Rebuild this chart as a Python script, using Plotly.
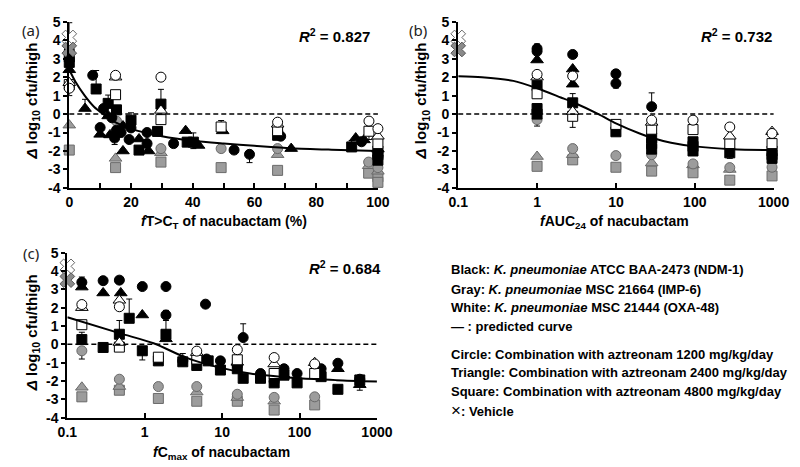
import plotly.graph_objects as go

# ---------------- data: panel (a)  fT>CT (%) ----------------
a_black_circle = [(0, 3.45), (7.6, 2.1), (11.1, 0.3), (13.8, -0.2), (10, -0.73), (15.3, -0.87), (16.8, -1.0),
                  (14.7, -1.3), (20, -0.75), (19.4, -1.38), (25.2, -1.0), (25.2, -1.6), (33.8, -1.6),
                  (53.4, -1.95), (58.4, -2.18), (68.5, -1.2), (94.7, -1.5), (100, -2.3)]
a_black_triangle = [(0, 2.4), (5.1, 0.3), (12.6, -0.1), (10, -1.1), (13.2, -1.13), (17.4, -0.65), (17.4, -2.0),
                    (22.6, -1.35), (25.7, -2.0), (37.7, -0.9), (41.9, -1.7), (49.7, -0.91), (71.9, -1.87),
                    (92.8, -1.3), (95.5, -1.4), (100, -1.9)]
a_black_square = [(0, 3.1), (0, 2.8), (8.7, 1.36), (12.6, 0.58), (15.3, 0.23), (20, -0.33), (22.6, -1.95),
                  (28.6, -0.94), (29.7, 0.54), (38.2, -1.52), (40.2, -1.52), (67.5, -1.15), (91.5, -1.78),
                  (100, -2.0), (100, -2.2), (100, -2.5)]
a_gray_circle = [(15.3, -0.38), (29.7, -1.87), (49.2, -1.87), (67.5, -1.87), (97, -2.6), (100, -2.9)]
a_gray_triangle = [(0, -0.6), (15, -2.4), (29.7, -2.1), (67.5, -2.2), (97, -2.8), (100, -3.1)]
a_gray_square = [(0, -1.95), (15, -2.9), (29.7, -2.6), (49.2, -2.9), (67.5, -3.05), (97, -3.2), (100, -3.4),
                 (100, -3.7)]
a_white_circle = [(0, 1.4), (15, 2.1), (29.7, 2.0), (67.5, -0.44), (97.1, -0.38), (100, -0.79)]
a_white_triangle = [(0, 1.7), (15, 2.0), (29.7, 0.2), (67.5, -0.55), (100, -1.2)]
a_white_square = [(0, 1.6), (15, 1.05), (29.7, -0.3), (49.2, -0.7), (67.5, -0.9), (97.1, -0.93), (100, -1.6)]
a_vehicle_white = [(0, 4.15)]
a_vehicle_gray = [(0, 3.5)]
# (x, y, plus, minus)
a_err = [(0, 4.15, 0.8, 0), (8.7, 1.36, 1.0, 0), (5.1, 0.3, 0.5, 0), (12.6, 0.58, 0.45, 0), (20, -0.33, 0.4, 0),
         (10, -0.73, 0, 0.35), (14.7, -1.3, 0, 0.35), (29.7, 0.54, 0.8, 0), (40.2, -1.52, 0.5, 0.35),
         (49.2, -0.7, 0.35, 0), (58.4, -2.18, 0, 0.45), (91.5, -1.78, 0.35, 0), (94.7, -1.5, 0.25, 0),
         (97.1, -0.93, 0, 0.45), (0, 1.4, 0, 0.4)]
a_curve_x = [0, 2, 5, 8, 11, 15, 20, 30, 40, 50, 60, 72, 85, 100]
a_curve_y = [2.4, 1.75, 1.0, 0.4, 0.0, -0.45, -0.8, -1.2, -1.45, -1.6, -1.72, -1.85, -1.93, -2.0]

# ---------------- data: panel (b)  fAUC24 ----------------
b_black_circle = [(1, 3.55), (1, 3.4), (2.83, 3.23), (10, 2.18), (10, 1.66), (28.4, 0.4)]
b_black_triangle = [(1, 2.93), (2.83, 2.44), (2.83, 1.62)]
b_black_square = [(1, 1.54), (1, 0.3), (1, 0.0), (2.83, 0.61), (10, -0.96), (28.4, -1.3), (28.4, -1.6),
                  (28.4, -1.9), (95, -1.5), (95, -1.75), (95, -2.0), (278, -2.1), (955, -2.0), (955, -2.2),
                  (955, -2.4)]
b_gray_circle = [(1, -0.3), (2.83, -1.87), (10, -2.25), (28.4, -2.2), (95, -2.7), (278, -2.9), (955, -2.88)]
b_gray_triangle = [(1, -2.3), (2.83, -2.2), (28.4, -2.65), (95, -2.75), (278, -3.0)]
b_gray_square = [(1, -2.83), (2.83, -2.48), (10, -2.88), (28.4, -3.09), (95, -3.18), (278, -3.58), (955, -3.35)]
b_white_circle = [(1, 2.15), (2.83, 2.06), (28.4, -0.33), (95, -0.33), (278, -0.7), (955, -1.05)]
b_white_triangle = [(1, 2.0), (2.83, 0.14), (28.4, -0.45), (278, -1.2), (955, -0.95)]
b_white_square = [(1, 1.1), (2.83, -0.12), (10, -0.56), (28.4, -0.82), (95, -0.84), (278, -1.6), (955, -1.6)]
b_vehicle_white = [(0.1, 4.15)]
b_vehicle_gray = [(0.1, 3.5)]
b_err = [(1, 3.55, 0.25, 0), (1, -0.3, 0, 0.35), (2.83, -0.12, 0, 0.6), (2.83, 0.61, 0.5, 0),
         (10, 1.66, 0, 0.25), (28.4, 0.4, 0.75, 0), (278, -2.1, 0, 0.3)]
b_curve_x = [0.1, 0.2, 0.5, 1, 2, 3, 6, 10, 20, 28.4, 50, 100, 300, 1000]
b_curve_y = [2.05, 2.0, 1.8, 1.4, 0.9, 0.6, 0.0, -0.5, -1.05, -1.28, -1.55, -1.75, -1.9, -1.95]

# ---------------- data: panel (c)  fCmax ----------------
c_black_circle = [(0.154, 3.38), (0.29, 3.47), (0.47, 3.5), (0.93, 3.15), (1.88, 3.15), (1.88, 1.6), (6.1, 2.19),
                  (3.1, -0.9), (6.3, -0.8), (9.5, -0.9), (15.7, -1.16), (18.7, 0.37), (31.3, -1.59), (47, -2.02),
                  (63, -1.33), (93, -1.59), (190, -1.33), (313, -1.03), (600, -1.9)]
c_black_triangle = [(0.154, 3.12), (0.29, 2.8), (0.49, 2.8), (0.93, 1.6), (1.88, 0.3), (15.7, -0.98), (63, -1.68),
                    (313, -1.33), (600, -2.2)]
c_black_square = [(0.154, 0.26), (0.29, -0.17), (0.47, 0.55), (0.63, 1.42), (0.93, -0.35), (1.88, 0.55),
                  (1.5, -0.9), (3.1, -0.95), (4.7, -1.15), (6.6, -0.9), (9.5, -1.4), (15.7, -1.33),
                  (18.7, -1.85), (31.3, -1.85), (47, -2.1), (63, -1.68), (93, -2.1), (190, -1.76), (313, -2.45),
                  (600, -1.94)]
c_gray_circle = [(0.154, -0.35), (0.47, -1.9), (1.5, -2.3), (4.7, -2.3), (15.7, -2.72), (47, -2.89), (157, -2.86)]
c_gray_triangle = [(0.154, -2.34), (0.47, -2.3), (4.7, -2.6), (15.7, -2.9), (47, -3.1)]
c_gray_square = [(0.154, -2.86), (0.47, -2.5), (1.5, -2.95), (4.7, -3.1), (15.7, -3.1), (47, -3.58), (157, -3.3)]
c_white_circle = [(0.154, 2.17), (0.47, 2.05), (4.7, -0.37), (15.7, -0.29), (47, -0.72), (157, -1.07)]
c_white_triangle = [(0.154, 2.0), (0.47, 2.4), (0.47, 0.1), (4.7, -0.45), (47, -1.07), (157, -1.0)]
c_white_square = [(0.154, 1.07), (0.47, -0.15), (1.5, -0.7), (4.7, -0.8), (15.7, -0.84), (47, -1.59), (157, -1.59)]
c_vehicle_white = [(0.1, 4.25)]
c_vehicle_gray = [(0.1, 3.5)]
c_err = [(0.154, 3.12, 0.55, 0), (0.154, 0.26, 0.4, 0), (0.154, -0.35, 0, 0.45), (0.47, 0.55, 0.75, 0),
         (0.63, 1.42, 1.05, 0), (0.93, -0.35, 0, 0.5), (1.88, 0.55, 0.75, 0), (1.88, 1.6, 0.25, 0),
         (3.1, -0.9, 0.4, 0), (18.7, 0.37, 0.75, 0), (600, -2.2, 0, 0.3)]
c_curve_x = [0.1, 0.47, 1.3, 3.4, 8.8, 23, 100, 300, 1000]
c_curve_y = [1.48, 0.61, 0.06, -0.72, -1.24, -1.59, -1.85, -1.95, -2.02]

Y_TICKS = [-4, -3, -2, -1, 0, 1, 2, 3, 4, 5]
Y_TICK_TEXT = ["-4", "-3", "-2", "-1", "0", "1", "2", "3", "4", "5"]
A_TICKS = [0, 20, 40, 60, 80, 100]
LOG_TICKS = [0.1, 1, 10, 100, 1000]
LOG_TICK_TEXT = ["0.1", "1", "10", "100", "1000"]

R2 = ["0.827", "0.732", "0.684"]
LEGEND_LINES = [
    "Black: <i>K. pneumoniae</i> ATCC BAA-2473 (NDM-1)",
    "Gray: <i>K. pneumoniae</i> MSC 21664 (IMP-6)",
    "White: <i>K. pneumoniae</i> MSC 21444 (OXA-48)",
    "— : predicted curve",
    "Circle: Combination with aztreonam 1200 mg/kg/day",
    "Triangle: Combination with aztreonam 2400 mg/kg/day",
    "Square: Combination with aztreonam 4800 mg/kg/day",
    "<span style='font-weight:normal;font-size:17px'>×</span>: Vehicle",
]

# ---------------- styles ----------------
FONT = "Liberation Sans, Arial, sans-serif"
STYLE = {
    "black": dict(color="black", line=dict(color="black", width=1)),
    "gray": dict(color="#9c9c9c", line=dict(color="#6a6a6a", width=1)),
    "white": dict(color="white", line=dict(color="black", width=1)),
}
SYMBOL = {"circle": "circle", "triangle": "triangle-up", "square": "square"}
SIZE = {"circle": 10, "triangle": 11, "square": 10}

fig = go.Figure()


def add_points(pts, color, shape, xa, ya):
    fig.add_trace(go.Scatter(
        x=[p[0] for p in pts], y=[p[1] for p in pts], mode="markers",
        marker=dict(symbol=SYMBOL[shape], size=SIZE[shape], **STYLE[color]),
        xaxis=xa, yaxis=ya, cliponaxis=False, showlegend=False, hoverinfo="skip"))


def add_err(errs, xa, ya):
    fig.add_trace(go.Scatter(
        x=[e[0] for e in errs], y=[e[1] for e in errs], mode="markers",
        marker=dict(size=1, opacity=0),
        error_y=dict(type="data", symmetric=False, array=[e[2] for e in errs],
                     arrayminus=[e[3] for e in errs], color="black", thickness=1, width=3),
        xaxis=xa, yaxis=ya, cliponaxis=False, showlegend=False, hoverinfo="skip"))


def add_vehicle(white, gray, xa, ya):
    fig.add_trace(go.Scatter(
        x=[p[0] for p in white], y=[p[1] for p in white], mode="markers",
        marker=dict(symbol="x", size=13, color="white", line=dict(color="#666", width=1)),
        xaxis=xa, yaxis=ya, cliponaxis=False, showlegend=False, hoverinfo="skip"))
    fig.add_trace(go.Scatter(
        x=[p[0] for p in gray], y=[p[1] for p in gray], mode="markers",
        marker=dict(symbol="x", size=13, color="#8a8a8a", line=dict(color="#555", width=1)),
        xaxis=xa, yaxis=ya, cliponaxis=False, showlegend=False, hoverinfo="skip"))


panels = [
    ("x", "y", a_err, a_black_circle, a_black_triangle, a_black_square, a_gray_circle, a_gray_triangle,
     a_gray_square, a_white_circle, a_white_triangle, a_white_square, a_vehicle_white, a_vehicle_gray,
     a_curve_x, a_curve_y),
    ("x2", "y2", b_err, b_black_circle, b_black_triangle, b_black_square, b_gray_circle, b_gray_triangle,
     b_gray_square, b_white_circle, b_white_triangle, b_white_square, b_vehicle_white, b_vehicle_gray,
     b_curve_x, b_curve_y),
    ("x3", "y3", c_err, c_black_circle, c_black_triangle, c_black_square, c_gray_circle, c_gray_triangle,
     c_gray_square, c_white_circle, c_white_triangle, c_white_square, c_vehicle_white, c_vehicle_gray,
     c_curve_x, c_curve_y),
]

for (xa, ya, err, bc, bt, bs, gc, gt, gs, wc, wt, ws, vw, vg, cx, cy) in panels:
    add_err(err, xa, ya)
    add_points(gs, "gray", "square", xa, ya)
    add_points(gt, "gray", "triangle", xa, ya)
    add_points(gc, "gray", "circle", xa, ya)
    add_points(bs, "black", "square", xa, ya)
    add_points(bt, "black", "triangle", xa, ya)
    add_points(bc, "black", "circle", xa, ya)
    add_points(ws, "white", "square", xa, ya)
    add_points(wt, "white", "triangle", xa, ya)
    add_points(wc, "white", "circle", xa, ya)
    add_vehicle(vw, vg, xa, ya)
    fig.add_trace(go.Scatter(x=cx, y=cy, mode="lines", line=dict(color="black", width=2, shape="spline",
                                                                  smoothing=0.8),
                             xaxis=xa, yaxis=ya, showlegend=False, hoverinfo="skip"))
    fig.add_shape(type="line", xref=f"{xa} domain", yref=ya, x0=0, x1=1, y0=0, y1=0,
                  line=dict(color="black", width=1.5, dash="5px,3px"))

W, H = 800, 467
tickfont = dict(family=FONT, size=14, color="black", weight="bold")


def px(x):
    return x / W


def py(y):
    return 1 - y / H


ycommon = dict(range=[-4, 5], tickvals=Y_TICKS, ticktext=Y_TICK_TEXT, showline=True, linecolor="black",
               linewidth=2, ticks="outside", ticklen=4, tickwidth=1.5, tickcolor="black", showgrid=False,
               zeroline=False, tickfont=tickfont, fixedrange=True)
xcommon = dict(showline=True, linecolor="black", linewidth=2, ticks="inside", ticklen=5, tickwidth=1.5,
               tickcolor="black", showgrid=False, zeroline=False, tickfont=tickfont, fixedrange=True)

fig.update_layout(
    width=W, height=H, margin=dict(l=0, r=0, t=0, b=0), paper_bgcolor="white", plot_bgcolor="white",
    xaxis=dict(domain=[px(53), px(372)], anchor="y", range=[0, 100], tickvals=A_TICKS,
               minor=dict(dtick=10, ticks="inside", ticklen=5, tickwidth=1.5, tickcolor="black"), **xcommon),
    yaxis=dict(domain=[py(178), py(6)], anchor="x", **ycommon),
    xaxis2=dict(domain=[px(455), px(781)], anchor="y2", type="log", range=[-1, 3], tickvals=LOG_TICKS,
                ticktext=LOG_TICK_TEXT, **xcommon),
    yaxis2=dict(domain=[py(178), py(6)], anchor="x2", **ycommon),
    xaxis3=dict(domain=[px(51), px(371)], anchor="y3", type="log", range=[-1, 3], tickvals=LOG_TICKS,
                ticktext=LOG_TICK_TEXT, **xcommon),
    yaxis3=dict(domain=[py(416), py(245)], anchor="x3", **ycommon),
)

ann = []


def add_text(text, x, y, size=14, xanchor="center", angle=0, bold=True, family=FONT, color="black"):
    ann.append(dict(text=text, x=px(x), y=py(y), xref="paper", yref="paper", xanchor=xanchor, yanchor="middle",
                    showarrow=False, textangle=angle,
                    font=dict(family=family, size=size, color=color, weight="bold" if bold else "normal")))


ytitle = "<i>Δ</i> log<sub>10</sub> cfu/thigh"
add_text(ytitle, 15, 88, size=15, angle=-90)
add_text(ytitle, 418, 88, size=15, angle=-90)
add_text(ytitle, 15, 328, size=15, angle=-90)
add_text("<i>f</i>T>C<sub>T</sub> of nacubactam (%)", 213, 213)
add_text("<i>f</i>AUC<sub>24</sub> of nacubactam", 617, 213)
add_text("<i>f</i>C<sub>max</sub> of nacubactam", 210, 453)
add_text("<i>R</i><sup>2</sup> = " + R2[0], 327, 20, size=15)
add_text("<i>R</i><sup>2</sup> = " + R2[1], 743, 20, size=15)
add_text("<i>R</i><sup>2</sup> = " + R2[2], 338, 260, size=15)
add_text("(a)", 13, 14, size=15, bold=False, family="Noto Sans", color="#222")
add_text("(b)", 413, 14, size=15, bold=False, family="Noto Sans", color="#222")
add_text("(c)", 13, 245, size=15, bold=False, family="Noto Sans", color="#222")

legend_y = [263, 283, 302, 322, 350, 369, 389, 409]
for t, yy in zip(LEGEND_LINES, legend_y):
    add_text(t, 445, yy, size=13, xanchor="left")

fig.update_layout(annotations=ann)
fig.write_html("out.html")
